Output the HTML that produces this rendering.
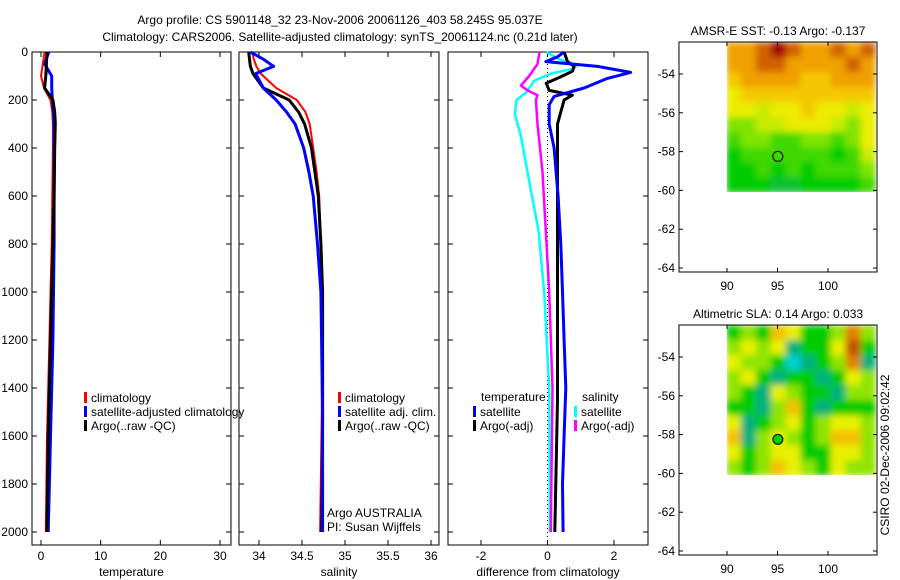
<!DOCTYPE html>
<html><head><meta charset="utf-8"><style>
body{margin:0;background:#fff;}
svg{display:block;font-family:"Liberation Sans",sans-serif;font-size:12px;}
</style></head><body>
<svg id="c" width="900" height="580" viewBox="0 0 900 580">
<defs>
<filter id="bl" x="-5%" y="-5%" width="110%" height="110%"><feGaussianBlur stdDeviation="3.5" edgeMode="duplicate"/></filter>
<clipPath id="cp1"><rect x="727" y="42" width="149" height="150"/></clipPath>
<clipPath id="cp2"><rect x="727" y="325" width="149" height="150"/></clipPath>
</defs>
<text x="340" y="24" text-anchor="middle">Argo profile: CS 5901148_32 23-Nov-2006 20061126_403 58.245S 95.037E</text>
<text x="340" y="41" text-anchor="middle">Climatology: CARS2006. Satellite-adjusted climatology: synTS_20061124.nc (0.21d later)</text>
<text transform="translate(889,455) rotate(-90)" text-anchor="middle">CSIRO 02-Dec-2006 09:02:42</text>
</svg>
<script>
// ---- data ----
const tDepth=[0,50,100,150,200,250,300,400,600,800,1000,1200,1400,1600,1800,2000];
const tClim=[0.6,0.3,0.0,0.5,1.6,1.9,2.0,2.0,1.9,1.8,1.6,1.4,1.2,1.0,0.9,0.8];
const tSat=[1.3,0.6,1.8,1.8,1.9,2.1,2.2,2.2,2.2,2.2,2.1,2.0,1.8,1.6,1.4,1.2];
const tArgo=[1.0,0.9,0.8,0.6,2.0,2.3,2.4,2.3,2.2,2.0,1.8,1.6,1.4,1.2,1.1,1.0];
const sDepth=[0,30,60,90,150,200,250,300,400,500,600,800,1000,1500,2000];
const sClim=[33.92,33.94,33.97,34.02,34.2,34.44,34.54,34.59,34.63,34.67,34.70,34.72,34.73,34.73,34.71];
const sSat=[33.9,34.05,34.17,33.96,34.05,34.2,34.32,34.42,34.52,34.58,34.63,34.68,34.72,34.74,34.74];
const sArgo=[33.88,33.89,33.9,33.93,34.05,34.35,34.46,34.53,34.61,34.65,34.69,34.72,34.74,34.74,34.73];
const dDepthTS=[0,20,40,60,85,110,150,185,220,300,400,600,800,1000,1200,1400,1600,1800,2000];
const dTempSat=[0.5,0.3,-0.05,1.5,2.5,1.8,1.1,0.2,0.05,0.05,0.2,0.32,0.4,0.45,0.5,0.55,0.5,0.45,0.47];
const dDepthTA=[0,40,60,80,100,130,160,180,200,300,600,1000,1450,2000];
const dTempArgo=[0.5,0.6,0.8,0.75,0.45,-0.04,0.05,0.75,0.5,0.3,0.3,0.3,0.3,0.22];
const dDepthS=[0,30,55,70,90,120,170,200,260,350,500,745,1000,1400,2000];
const dSalSat=[-0.04,0.35,0.9,0.77,0.1,-0.4,-0.65,-0.93,-0.98,-0.8,-0.6,-0.27,-0.1,0.05,0.07];
const dDepthSA=[0,50,100,140,160,180,200,300,500,745,1000,1400,2000];
const dSalArgo=[-0.24,-0.3,-0.55,-0.8,-0.6,-0.3,-0.35,-0.3,-0.15,-0.05,0.05,0.15,0.1];
const depthTicks=[0,200,400,600,800,1000,1200,1400,1600,1800,2000];
const tTicks=[0,10,20,30];
const sTicks=[34,34.5,35,35.5,36];
const dTicks=[-2,0,2];
const latTicks=[-54,-56,-58,-60,-62,-64];
const lonTicks=[90,95,100];
const sstGrid=[
[8,8,9,10,9,8,8,9,8,9],[8,8,9,9,8,8,8,8,9,8],[7,8,8,8,8,7,7,8,8,8],[6,7,7,7,7,7,7,7,7,7],
[6,6,5,6,6,7,6,6,5,6],[4,4,5,5,6,6,6,5,4,6],[3,4,4,3,3,4,4,3,4,6],[2,3,3,3,3,3,3,2,3,5],
[2,2,3,2,3,2,3,3,3,4],[2,2,2,1,1,2,2,2,2,3]];
const slaGrid=[
[2,3,2,5,4,2,2,3,6,3],[3,4,3,4,1,2,2,4,7,2],[4,3,3,2,0,1,2,3,6,1],[3,4,2,1,2,2,1,2,4,3],
[3,2,1,4,3,2,2,1,3,3],[2,2,1,3,5,2,1,2,2,2],[4,1,2,3,4,2,3,4,4,3],[5,1,3,4,3,2,3,5,5,3],
[4,2,3,4,4,2,2,4,4,3],[3,2,3,5,4,3,2,4,3,3]];
const sstCols=["#00b060","#10c030","#00cc00","#40d800","#80e400","#c8ec00","#ecec00","#f4c800","#f0a000","#d06000","#a00000"];
const slaCols=["#00d0d0","#00b080","#00cc00","#90e400","#e8f000","#f4c000","#e08000","#c05000"];
const profLat=-58.245, profLon=95.037;

const svg=document.getElementById('c');
const NS='http://www.w3.org/2000/svg';
function mk(tag,at,parent){const e=document.createElementNS(NS,tag);for(const k in at)e.setAttribute(k,at[k]);(parent||svg).appendChild(e);return e;}
function lin(d0,d1,r0,r1){return v=>r0+(v-d0)*(r1-r0)/(d1-d0);}
const yD=lin(0,2000,52,532);

function panel(name,x0,x1,xs,xticks,xlabel){
  const g=mk('g',{});
  const r=mk('rect',{x:x0,y:52,width:x1-x0,height:493,fill:'none',stroke:'#000','stroke-width':1},g);
  
  depthTicks.forEach(d=>{const y=yD(d);
    mk('line',{x1:x0,x2:x0+5,y1:y,y2:y,stroke:'#000'},g);mk('line',{x1:x1-5,x2:x1,y1:y,y2:y,stroke:'#000'},g);
    if(name==='temperature'){const t=mk('text',{x:x0-4,y:y+4,'text-anchor':'end'},g);t.textContent=d;}
  });
  xticks.forEach(v=>{const x=xs(v);
    mk('line',{x1:x,x2:x,y1:545,y2:540,stroke:'#000'},g);mk('line',{x1:x,x2:x,y1:52,y2:57,stroke:'#000'},g);
    const t=mk('text',{x:x,y:560,'text-anchor':'middle'},g);t.textContent=v;
    });
  const t=mk('text',{x:(x0+x1)/2,y:576,'text-anchor':'middle'},g);t.textContent=xlabel;
  
  return g;
}
function line(g,xs,vals,depths,col,w,nm){
  const p=vals.map((v,i)=>(i?'L':'M')+xs(v).toFixed(1)+','+yD(depths[i]).toFixed(1)).join('');
  const e=mk('path',{d:p,fill:'none',stroke:col,'stroke-width':w,'stroke-linejoin':'round'},g);
  
}
function legend(g,x,y,col,label,nm){
  mk('rect',{x:x,y:y-10,width:3,height:11,fill:col},g);
  const t=mk('text',{x:x+7,y:y},g);t.textContent=label;
  
}
const xT=lin(0,30,41,220);
const gT=panel('temperature',32,231,xT,tTicks,'temperature');
line(gT,xT,tClim,tDepth,'#f00',2,'temperature-climatology-line');
line(gT,xT,tSat,tDepth,'#00f',3,'temperature-satellite-line');
line(gT,xT,tArgo,tDepth,'#000',3,'temperature-argo-line');
legend(gT,84,402,'#f00','climatology','legend-climatology');
legend(gT,84,416,'#00f','satellite-adjusted climatology','legend-satellite-adjusted');
legend(gT,84,430,'#000','Argo(..raw -QC)','legend-argo');
const xS=lin(34,36,259,431);
const gS=panel('salinity',239,439,xS,sTicks,'salinity');
line(gS,xS,sClim,sDepth,'#f00',2,'salinity-climatology-line');
line(gS,xS,sArgo,sDepth,'#000',3,'salinity-argo-line');
line(gS,xS,sSat,sDepth,'#00f',3,'salinity-satellite-line');
legend(gS,338,402,'#f00','climatology','legend-climatology');
legend(gS,338,416,'#00f','satellite adj. clim.','legend-satellite-adj');
legend(gS,338,430,'#000','Argo(..raw -QC)','legend-argo');
{const t=mk('text',{x:327,y:517},gS);t.textContent='Argo AUSTRALIA';
 const u=mk('text',{x:327,y:531},gS);u.textContent='PI: Susan Wijffels';}
const xDf=lin(-2,2,481,614);
const gD=panel('difference',448,648,xDf,dTicks,'difference from climatology');
mk('line',{x1:xDf(0),x2:xDf(0),y1:52,y2:545,stroke:'#000','stroke-dasharray':'1,3'},gD);
line(gD,xDf,dSalSat,dDepthS,'#0ff',2.5,'diff-salinity-satellite-line');
line(gD,xDf,dSalArgo,dDepthSA,'#f0f',2.5,'diff-salinity-argo-line');
line(gD,xDf,dTempArgo,dDepthTA,'#000',3,'diff-temperature-argo-line');
line(gD,xDf,dTempSat,dDepthTS,'#00f',3,'diff-temperature-satellite-line');
{const t=mk('text',{x:481,y:401},gD);t.textContent='temperature';
 const u=mk('text',{x:582,y:401},gD);u.textContent='salinity';}
legend(gD,473,416,'#00f','satellite','legend-temp-satellite');
legend(gD,473,430,'#000','Argo(-adj)','legend-temp-argo');
legend(gD,574,416,'#0ff','satellite','legend-sal-satellite');
legend(gD,574,430,'#f0f','Argo(-adj)','legend-sal-argo');
function map(name,top,title,grid,cols,dotFill,clip){
  const g=mk('g',{});
  const bot=top+230;
  const xL=lin(90,100,727,828), yL=lin(-54,-64,top+32,top+226);
  const gx0=xL(89.9),gx1=xL(104.7),gy0=top,gy1=yL(-60.1);
  const nr=grid.length,nc=grid[0].length,cw=(gx1-gx0)/nc,ch=(gy1-gy0)/nr;
  const cg=mk('g',{'clip-path':'url(#'+clip+')'},g);
  const hg=mk('g',{filter:'url(#bl)'},cg);
  
  grid.forEach((row,i)=>row.forEach((v,j)=>{
    const c=mk('rect',{x:(gx0+j*cw).toFixed(2),y:(gy0+i*ch).toFixed(2),width:(cw+0.6).toFixed(2),height:(ch+0.6).toFixed(2),fill:cols[v]},hg);
    
  }));
  const f=mk('rect',{x:679,y:top,width:198,height:230,fill:'none',stroke:'#000'},g);
  
  latTicks.forEach(v=>{const y=yL(v);mk('line',{x1:679,x2:683,y1:y,y2:y,stroke:'#000'},g);mk('line',{x1:873,x2:877,y1:y,y2:y,stroke:'#000'},g);
    const t=mk('text',{x:675,y:y+4,'text-anchor':'end'},g);t.textContent=v;});
  lonTicks.forEach(v=>{const x=xL(v);mk('line',{x1:x,x2:x,y1:top,y2:top+4,stroke:'#000'},g);mk('line',{x1:x,x2:x,y1:bot-4,y2:bot,stroke:'#000'},g);
    const t=mk('text',{x:x,y:bot+18,'text-anchor':'middle'},g);t.textContent=v;});
  const d=mk('circle',{cx:xL(profLon),cy:yL(profLat),r:5,fill:dotFill,stroke:'#000'},g);
  
  const t=mk('text',{x:778,y:top-7,'text-anchor':'middle'},g);t.textContent=title;
}
map('sst',42,'AMSR-E SST: -0.13 Argo: -0.137',sstGrid,sstCols,'none','cp1');
map('sla',325,'Altimetric SLA: 0.14 Argo: 0.033',slaGrid,slaCols,'#00cc00','cp2');
</script>
</body></html>
